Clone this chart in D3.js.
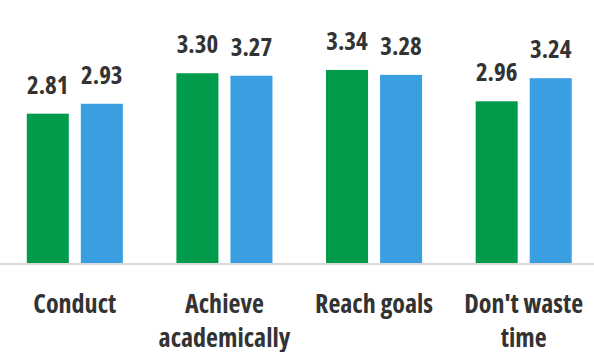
<!DOCTYPE html>
<html>
<head>
<meta charset="utf-8">
<script src="https://cdn.jsdelivr.net/npm/d3@7"></script>
<style>
  html, body { margin: 0; padding: 0; background: #fff; }
  svg text { font-family: "Open Sans", "DejaVu Sans Condensed", sans-serif; font-stretch: condensed; font-weight: 700; fill: #333; }
</style>
</head>
<body>
<svg id="chart" width="594" height="352"></svg>
<script>
// Mean ratings per category for the two groups
const categories = ["Conduct", "Achieve academically", "Reach goals", "Don't waste time"];
const seriesNames = ["Group A", "Group B"];
const groupA = [2.81, 3.30, 3.34, 2.96];
const groupB = [2.93, 3.27, 3.28, 3.24];
const seriesColors = ["#009b4b", "#3a9fe0"];

const W = 594, H = 352;
const baseY = 263, topY = 15.5;

const svg = d3.select("#chart");

const x = d3.scaleBand()
  .domain(categories)
  .range([0, 598.5])
  .paddingInner(0.358)
  .paddingOuter(0.179);

const xInner = d3.scaleBand()
  .domain(seriesNames)
  .range([0, x.bandwidth()])
  .paddingInner(0.2222)
  .paddingOuter(0);

const y = d3.scaleLinear().domain([1, 4]).range([baseY, topY]);

const rows = categories.map((c, i) => ({
  cat: c,
  vals: [groupA[i], groupB[i]].map((v, j) => ({ key: seriesNames[j], v, color: seriesColors[j] }))
}));

const groups = svg.selectAll("g.grp").data(rows).join("g")
  .attr("class", "grp")
  .attr("transform", d => `translate(${x(d.cat)},0)`);

groups.selectAll("rect").data(d => d.vals).join("rect")
  .attr("x", d => xInner(d.key))
  .attr("width", xInner.bandwidth())
  .attr("y", d => y(d.v))
  .attr("height", d => y(1) - y(d.v))
  .attr("fill", d => d.color);

groups.selectAll("text.val").data(d => d.vals).join("text")
  .attr("class", "val")
  .attr("x", d => xInner(d.key) + xInner.bandwidth() / 2)
  .attr("y", d => y(d.v) - 20)
  .attr("text-anchor", "middle")
  .style("font-size", "25px")
  .text(d => d.v.toFixed(2));

// baseline
svg.append("line")
  .attr("x1", 0).attr("x2", W)
  .attr("y1", baseY + 1).attr("y2", baseY + 1)
  .attr("stroke", "#d9d9d9").attr("stroke-width", 2);

// category labels, wrapped to a max width
const xAxis = svg.append("g").attr("transform", `translate(0,${baseY})`)
  .call(d3.axisBottom(x).tickSize(0).tickPadding(0));
xAxis.select(".domain").remove();
xAxis.attr("font-family", null).attr("font-size", null);
xAxis.selectAll(".tick text")
  .attr("y", 50)
  .attr("dy", 0)
  .style("font-size", "26px")
  .style("fill", "#333")
  .each(function(d) {
    const t = d3.select(this);
    const words = d.split(" ");
    t.text(null);
    let line = [];
    let tspan = t.append("tspan").attr("x", 0).attr("dy", 0);
    words.forEach(w => {
      line.push(w);
      tspan.text(line.join(" "));
      if (tspan.node().getComputedTextLength() > 145 && line.length > 1) {
        line.pop();
        tspan.text(line.join(" "));
        line = [w];
        tspan = t.append("tspan").attr("x", 0).attr("dy", 34).text(w);
      }
    });
  });
</script>
</body>
</html>
